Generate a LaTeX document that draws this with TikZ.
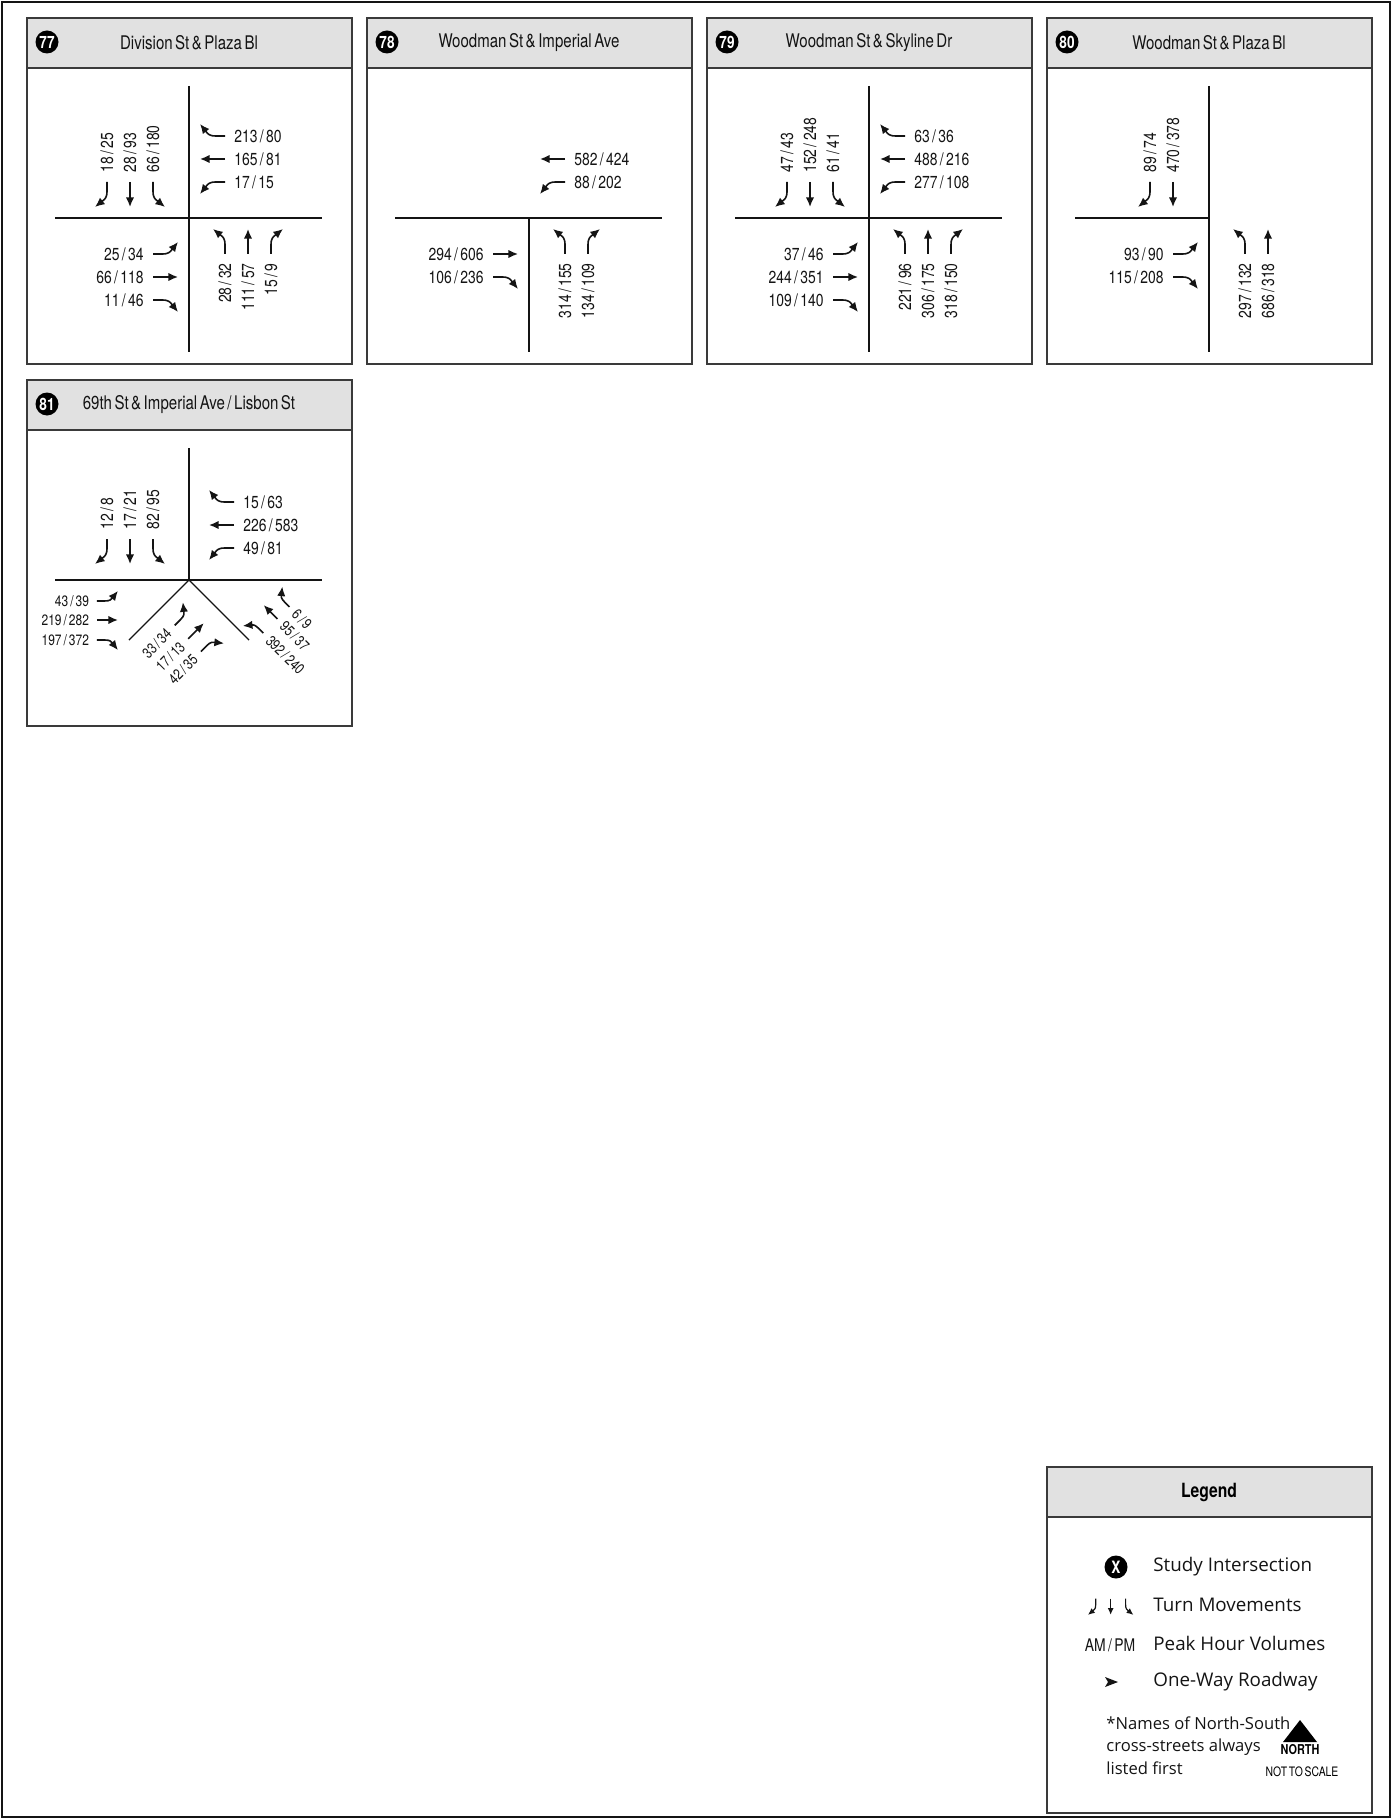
\documentclass[tikz,border=0pt]{standalone}
\usepackage{fontspec}
\setmainfont{Open Sans}
\newfontfamily\cond{TeX Gyre Heros}[FakeStretch=0.8,WordSpace=0.6]
\usetikzlibrary{arrows.meta,calc}
\definecolor{ink}{HTML}{141414}
\definecolor{rule}{HTML}{3A3A3A}
\definecolor{wash}{HTML}{E1E1E1}
\newcommand{\lblfont}{\cond\fontsize{8.7}{9.5}\selectfont}
\newcommand{\lblsmall}{\cond\fontsize{7.5}{8.5}\selectfont}
\newcounter{mvn}
% turn arrows, drawn as a southbound approach, lane x given
\newcommand{\turnR}[2][]{\draw[mvline,#1] (#2,-36) -- (#2,-27) .. controls (#2,-20) and ({#2-2},-19) .. ({#2-12},-11);}
\newcommand{\turnT}[2][]{\draw[mvline,#1] (#2,-36) -- (#2,-11);}
\newcommand{\turnL}[2][]{\draw[mvline,#1] (#2,-36) -- (#2,-27) .. controls (#2,-20) and ({#2+2},-19) .. ({#2+12},-11);}
% frame, label style, lane, turn, volumes
\newcommand{\mv}[5]{%
  \begin{scope}[#1]
    \csname turn#4\endcsname{#3}
    \stepcounter{mvn}
    \node[#2] (mv\arabic{mvn}) at (#3,-45) {#5};
  \end{scope}}
% name, top left, number, streets
\newcommand{\panel}[4]{%
  \node[headbar] (#1h) at (#2) {};
  \node[panelbox] (#1) at (#2) {};
  \node[badge] (#1b) at ($(#1.north west)+(20,24)$) {#3};
  \node[ttl] (#1t) at ($(#1.north west)+(162,25)$) {#4};
  \coordinate (#1c) at ($(#1.north west)+(162,200)$);}

\begin{document}
\begin{tikzpicture}[x=0.5pt,y=-0.5pt,
  mvline/.style={draw=ink,line width=0.8pt,-{Latex[length=4.8pt,width=4.2pt]}},
  smalltip/.style={line width=0.6pt,-{Latex[length=3.4pt,width=3pt]}},
  road/.style={draw=ink,line width=0.7pt},
  lbl/.style={font=\lblfont,inner sep=0pt,text=ink},
  lbs/.style={font=\lblsmall,inner sep=0pt,text=ink},
  headbar/.style={draw=rule,fill=wash,line width=0.7pt,minimum width=162.5pt,minimum height=25pt,inner sep=0pt,outer sep=0pt,anchor=north west},
  panelbox/.style={draw=rule,line width=0.7pt,minimum width=162.5pt,minimum height=173pt,inner sep=0pt,outer sep=0pt,anchor=north west},
  badge/.style={circle,fill=black,text=white,minimum size=11.5pt,inner sep=0pt,font=\cond\bfseries\fontsize{8.5}{9}\selectfont},
  ttl/.style={font=\cond\fontsize{9.4}{10.5}\selectfont,text=ink},
  keytxt/.style={anchor=west,inner sep=0pt,font=\fontsize{9.4}{11.5}\selectfont,text=ink},
  frS/.style={}, frW/.style={rotate=-90}, frN/.style={rotate=180}, frE/.style={rotate=90},
  frS1/.style={yshift=2.5pt}, frW1/.style={shift={(9,4)},rotate=-90},
  frE1/.style={rotate=90,yshift=30.9pt,scale=0.84},
  frSW/.style={rotate=135,yshift=5.2pt,scale=0.88},
  frSE/.style={rotate=-135,yshift=31pt,scale=0.78},
  lbS/.style={lbl,rotate=90,anchor=west}, lbW/.style={lbl,anchor=west},
  lbN/.style={lbl,rotate=90,anchor=east}, lbE/.style={lbl,anchor=east},
  lbE1/.style={lbs,anchor=east}, lbSW/.style={lbs,rotate=45,anchor=east},
  lbSE/.style={lbs,rotate=-45,anchor=west}]
\useasboundingbox (0,0) rectangle (1393,1819);
\draw[draw=ink,line width=1.2pt] (2,2) rectangle (1390,1817);

% 77
\panel{p77}{27,18}{77}{Division St \& Plaza Bl}
\begin{scope}[shift={(p77c)}]
  \draw[road] (0,-132) -- (0,134);
  \draw[road] (-134,0) -- (133,0);
  \mv{frS}{lbS}{-82}{R}{18 / 25}
  \mv{frS}{lbS}{-59}{T}{28 / 93}
  \mv{frS}{lbS}{-36}{L}{66 / 180}
  \mv{frW}{lbW}{-82}{R}{213 / 80}
  \mv{frW}{lbW}{-59}{T}{165 / 81}
  \mv{frW}{lbW}{-36}{L}{17 / 15}
  \mv{frN}{lbN}{-36}{L}{28 / 32}
  \mv{frN}{lbN}{-59}{T}{111 / 57}
  \mv{frN}{lbN}{-82}{R}{15 / 9}
  \mv{frE}{lbE}{-36}{L}{25 / 34}
  \mv{frE}{lbE}{-59}{T}{66 / 118}
  \mv{frE}{lbE}{-82}{R}{11 / 46}
\end{scope}

% 78
\panel{p78}{367,18}{78}{Woodman St \& Imperial Ave}
\begin{scope}[shift={(p78c)}]
  \draw[road] (0,0) -- (0,134);
  \draw[road] (-134,0) -- (133,0);
  \mv{frW}{lbW}{-59}{T}{582 / 424}
  \mv{frW}{lbW}{-36}{L}{88 / 202}
  \mv{frN}{lbN}{-36}{L}{314 / 155}
  \mv{frN}{lbN}{-59}{R}{134 / 109}
  \mv{frE}{lbE}{-36}{T}{294 / 606}
  \mv{frE}{lbE}{-59}{R}{106 / 236}
\end{scope}

% 79
\panel{p79}{707,18}{79}{Woodman St \& Skyline Dr}
\begin{scope}[shift={(p79c)}]
  \draw[road] (0,-132) -- (0,134);
  \draw[road] (-134,0) -- (133,0);
  \mv{frS}{lbS}{-82}{R}{47 / 43}
  \mv{frS}{lbS}{-59}{T}{152 / 248}
  \mv{frS}{lbS}{-36}{L}{61 / 41}
  \mv{frW}{lbW}{-82}{R}{63 / 36}
  \mv{frW}{lbW}{-59}{T}{488 / 216}
  \mv{frW}{lbW}{-36}{L}{277 / 108}
  \mv{frN}{lbN}{-36}{L}{221 / 96}
  \mv{frN}{lbN}{-59}{T}{306 / 175}
  \mv{frN}{lbN}{-82}{R}{318 / 150}
  \mv{frE}{lbE}{-36}{L}{37 / 46}
  \mv{frE}{lbE}{-59}{T}{244 / 351}
  \mv{frE}{lbE}{-82}{R}{109 / 140}
\end{scope}

% 80
\panel{p80}{1047,18}{80}{Woodman St \& Plaza Bl}
\begin{scope}[shift={(p80c)}]
  \draw[road] (0,-132) -- (0,134);
  \draw[road] (-134,0) -- (0,0);
  \mv{frS}{lbS}{-59}{R}{89 / 74}
  \mv{frS}{lbS}{-36}{T}{470 / 378}
  \mv{frN}{lbN}{-36}{L}{297 / 132}
  \mv{frN}{lbN}{-59}{T}{686 / 318}
  \mv{frE}{lbE}{-36}{L}{93 / 90}
  \mv{frE}{lbE}{-59}{R}{115 / 208}
\end{scope}

% 81
\panel{p81}{27,380}{81}{69th St \& Imperial Ave / Lisbon St}
\begin{scope}[shift={(p81c)}]
  \draw[road] (0,-132) -- (0,0);
  \draw[road] (-134,0) -- (133,0);
  \draw[road] (-60,60) -- (0,0) -- (60,60);
  \mv{frS1}{lbS}{-82}{R}{12 / 8}
  \mv{frS1}{lbS}{-59}{T}{17 / 21}
  \mv{frS1}{lbS}{-36}{L}{82 / 95}
  \mv{frW1}{lbW}{-82}{R}{15 / 63}
  \mv{frW1}{lbW}{-59}{T}{226 / 583}
  \mv{frW1}{lbW}{-36}{L}{49 / 81}
  \mv{frE1}{lbE1}{-25}{L}{43 / 39}
  \mv{frE1}{lbE1}{-47.6}{T}{219 / 282}
  \mv{frE1}{lbE1}{-71.4}{R}{197 / 372}
  \mv{frSW}{lbSW}{-25}{L}{33 / 34}
  \mv{frSW}{lbSW}{-46.6}{T}{17 / 13}
  \mv{frSW}{lbSW}{-67}{R}{42 / 35}
  \mv{frSE}{lbSE}{-19.2}{L}{392 / 240}
  \mv{frSE}{lbSE}{-44.9}{T}{95 / 37}
  \mv{frSE}{lbSE}{-66.7}{R}{6 / 9}
\end{scope}

% legend
\node[headbar] (legh) at (1047,1467) {};
\node[panelbox] (leg) at (1047,1467) {};
\node[font=\cond\bfseries\fontsize{9.8}{11}\selectfont] (legt) at ($(leg.north west)+(162,25)$) {Legend};
\node[badge] (legx) at (1116,1567) {X};
\node[keytxt] (k1) at (1153,1567) {Study Intersection};
\begin{scope}[shift={(1149,1622)},scale=0.65]
  \turnR[smalltip]{-82}
  \turnT[smalltip]{-59}
  \turnL[smalltip]{-36}
\end{scope}
\node[keytxt] (k2) at (1153,1605) {Turn Movements};
\node[lbl] (kam) at (1110,1645) {AM / PM};
\node[keytxt] (k3) at (1153,1643) {Peak Hour Volumes};
\fill[ink] (1105,1677) -- (1118,1682) -- (1105,1687) -- (1108,1682) -- cycle;
\node[keytxt] (k4) at (1153,1682) {One-Way Roadway};
\node[keytxt,anchor=north west,align=left,font=\fontsize{8.3}{11.3}\selectfont] (k5) at (1106,1716)
  {*Names of North-South\\cross-streets always\\listed first};
\fill[black] (1283,1742) -- (1317,1742) -- (1300,1720) -- cycle;
\node[font=\cond\bfseries\fontsize{6.8}{7}\selectfont,inner sep=0pt] (kn) at (1300,1750) {NORTH};
\node[font=\cond\fontsize{6.5}{7}\selectfont,inner sep=0pt] (ks) at (1302,1772) {NOT TO SCALE};
\end{tikzpicture}
\end{document}
